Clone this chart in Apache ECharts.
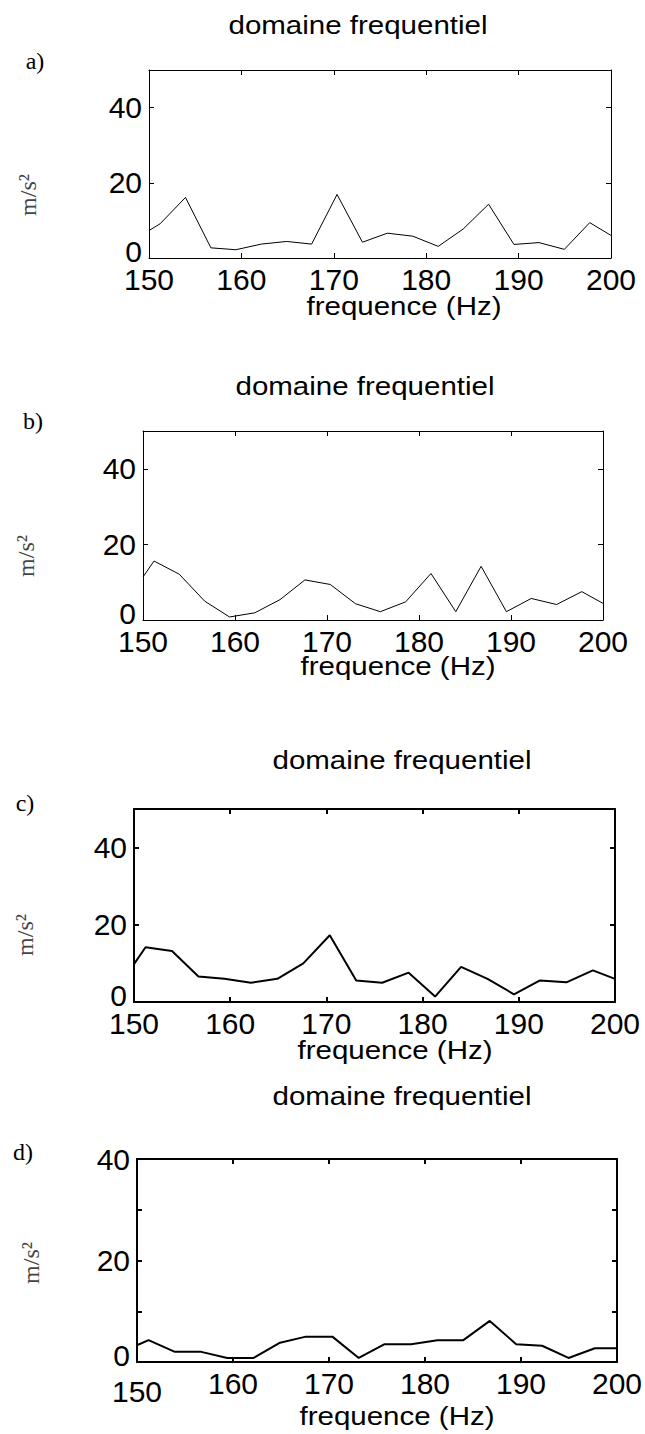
<!DOCTYPE html>
<html>
<head>
<meta charset="utf-8">
<script src="https://cdn.jsdelivr.net/npm/echarts@6/dist/echarts.min.js"></script>
<style>
  html, body { margin: 0; padding: 0; background: #fff; }
  #chart { width: 645px; height: 1434px; }
</style>
</head>
<body>
<div id="chart"></div>
<script>
// Spectrum bins (Hz) shared by the four panels, clipped to the 150-200 Hz window
const freqs = [150, 151.2, 153.95, 156.7, 159.4, 162.15, 164.9, 167.6, 170.35, 173.1,
               175.8, 178.55, 181.3, 184.0, 186.75, 189.5, 192.2, 194.95, 197.7, 200];

// Amplitudes (m/s^2) for each panel
const ampA = [7.3, 9.1, 16.1, 2.7, 2.2, 3.7, 4.4, 3.7, 16.9, 4.2,
              6.6, 5.8, 3.1, 7.7, 14.3, 3.6, 4.1, 2.3, 9.4, 6.0];
const ampB = [11.4, 15.6, 12.1, 5.0, 0.8, 1.9, 5.4, 10.6, 9.4, 4.3,
              2.2, 4.8, 12.3, 2.2, 14.2, 2.2, 5.7, 4.1, 7.5, 4.4];
const ampC = [9.8, 14.2, 13.2, 6.6, 6.0, 5.0, 6.0, 10.0, 17.3, 5.6,
              5.0, 7.6, 1.4, 9.1, 6.0, 2.0, 5.6, 5.1, 8.2, 6.0];
const ampD = [3.3, 4.3, 2.0, 2.0, 0.8, 0.8, 3.8, 5.0, 5.0, 0.8,
              3.5, 3.5, 4.3, 4.3, 8.1, 3.5, 3.2, 0.8, 2.7, 2.7];

// Axis ticks and labels
const xTickLabels = [150, 160, 170, 180, 190, 200];
const xTicks = [160, 170, 180, 190];
const yTickLabels = [0, 20, 40];
const yTicksD = [0, 10, 20, 30, 40];

// Text
const panelTitle = 'domaine frequentiel';
const xName = 'frequence (Hz)';
const yName = 'm/s\u00B2';
const panelLetters = ['a)', 'b)', 'c)', 'd)'];

// Panel geometry (px) and styling
const panels = [
  { data: ampA, box: [149, 70, 611, 258], ymax: 50, yTicks: yTickLabels, lw: 1,
    title: [358, 25], letter: [35, 61], yl: [28, 195], xl: [404, 306] },
  { data: ampB, box: [143, 431, 603, 620], ymax: 50, yTicks: yTickLabels, lw: 1,
    title: [365, 386], letter: [33, 421], yl: [26, 556], xl: [398, 666] },
  { data: ampC, box: [134, 809, 615, 1002], ymax: 50, yTicks: yTickLabels, lw: 2,
    title: [402, 760], letter: [25, 803], yl: [25, 935], xl: [395, 1050] },
  { data: ampD, box: [137, 1159, 618, 1362], ymax: 40, yTicks: yTicksD, lw: 2,
    title: [402, 1096], letter: [23, 1152], yl: [31, 1263], xl: [397, 1416], lowFirst: true }
];

const SANS = 'Liberation Sans, Arial, sans-serif';
const SERIF = 'Liberation Serif, Times New Roman, serif';
const TICK_FONT = 30;

const grid = [], xAxis = [], yAxis = [], series = [], graphic = [];

panels.forEach((p, i) => {
  const [l, t, r, b] = p.box;
  grid.push({ left: l, top: t, width: r - l, height: b - t });
  const line = { show: true, onZero: false, lineStyle: { color: '#000', width: p.lw } };
  const tick = { show: true, inside: true, length: 5, lineStyle: { color: '#000', width: p.lw } };
  const labelText = { fontFamily: SANS, fontSize: TICK_FONT, color: '#000' };

  // bottom x axis with labels
  xAxis.push({
    type: 'value', gridIndex: i, position: 'bottom', min: 150, max: 200,
    axisLine: line, splitLine: { show: false },
    axisTick: Object.assign({ customValues: xTicks }, tick),
    axisLabel: Object.assign({
      customValues: xTickLabels, margin: 6,
      formatter: v => (p.lowFirst && v === 150) ? '{lo|150}' : String(v),
      rich: { lo: Object.assign({ padding: [8, 0, 0, 0] }, labelText) }
    }, labelText)
  });
  // mirrored top x axis (ticks only)
  xAxis.push({
    type: 'value', gridIndex: i, position: 'top', min: 150, max: 200,
    axisLine: line, splitLine: { show: false },
    axisTick: Object.assign({ customValues: xTicks }, tick),
    axisLabel: { show: false }
  });
  // left y axis with labels; the zero label sits a little above its tick
  yAxis.push({
    type: 'value', gridIndex: i, position: 'left', min: 0, max: p.ymax,
    axisLine: line, splitLine: { show: false },
    axisTick: Object.assign({ customValues: p.yTicks }, tick),
    axisLabel: Object.assign({
      customValues: yTickLabels, margin: 7,
      formatter: v => v === 0 ? '{z|0}' : String(v),
      rich: { z: Object.assign({ padding: [0, 0, 14, 0] }, labelText) }
    }, labelText)
  });
  // mirrored right y axis (ticks only)
  yAxis.push({
    type: 'value', gridIndex: i, position: 'right', min: 0, max: p.ymax,
    axisLine: line, splitLine: { show: false },
    axisTick: Object.assign({ customValues: p.yTicks }, tick),
    axisLabel: { show: false }
  });

  series.push({
    type: 'line', xAxisIndex: 2 * i, yAxisIndex: 2 * i,
    data: freqs.map((f, k) => [f, p.data[k]]),
    showSymbol: false, clip: true, animation: false,
    lineStyle: { color: '#000', width: p.lw }
  });

  graphic.push({
    type: 'text', x: p.title[0], y: p.title[1], scaleX: 1.18,
    style: { text: panelTitle, font: '25px ' + SANS, fill: '#000', align: 'center', verticalAlign: 'middle' }
  });
  graphic.push({
    type: 'text', x: p.letter[0], y: p.letter[1],
    style: { text: panelLetters[i], font: '24px ' + SERIF, fill: '#000', align: 'center', verticalAlign: 'middle' }
  });
  graphic.push({
    type: 'text', x: p.yl[0], y: p.yl[1], rotation: Math.PI / 2,
    style: { text: yName, font: '24px ' + SERIF, fill: '#444', align: 'center', verticalAlign: 'middle' }
  });
  graphic.push({
    type: 'text', x: p.xl[0], y: p.xl[1], scaleX: 1.18,
    style: { text: xName, font: '25px ' + SANS, fill: '#000', align: 'center', verticalAlign: 'middle' }
  });
});

const chart = echarts.init(document.getElementById('chart'), null, { renderer: 'svg' });
chart.setOption({
  animation: false,
  backgroundColor: '#fff',
  grid, xAxis, yAxis, series, graphic
});
</script>
</body>
</html>
